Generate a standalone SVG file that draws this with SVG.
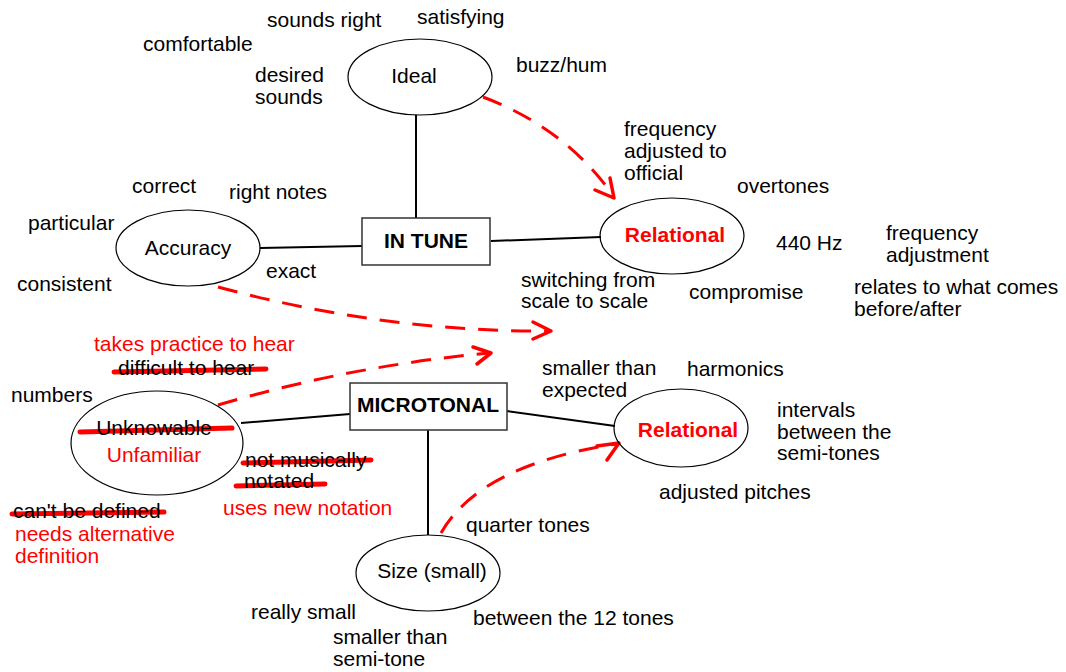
<svg xmlns="http://www.w3.org/2000/svg" width="1066" height="672" viewBox="0 0 1066 672">
<style>
text{font-family:"Liberation Sans",Arial,sans-serif;font-size:21px;fill:#000}
.red{fill:#ff0000}
.b{font-weight:bold}
.mid{text-anchor:middle}
.ell{fill:none;stroke:#000;stroke-width:1.2}
.box{fill:#fff;stroke:#333;stroke-width:1.5}
.link{stroke:#000;stroke-width:2;fill:none}
.dash{stroke:#ff0000;stroke-width:3;fill:none;stroke-dasharray:20 13}
.head{stroke:#ff0000;stroke-width:3.5;fill:none;stroke-linecap:round;stroke-linejoin:round}
.strike{stroke:#ff0000;stroke-width:5;stroke-linecap:round;fill:none}
</style>
<rect width="1066" height="672" fill="#fff"/>
<g id="strikes">
<line class="strike" x1="114" y1="372" x2="266" y2="369"/>
<line class="strike" x1="80" y1="432" x2="232" y2="428"/>
<line class="strike" x1="243" y1="463" x2="371" y2="460"/>
<line class="strike" x1="236" y1="486" x2="325" y2="484"/>
<line class="strike" x1="12" y1="514" x2="164" y2="512"/>
</g>
<g id="connectors">
<line class="link" x1="416" y1="115" x2="416" y2="218"/>
<line class="link" x1="491" y1="241" x2="601" y2="237"/>
<line class="link" x1="260" y1="248" x2="362" y2="246"/>
<line class="link" x1="241" y1="423" x2="350" y2="414"/>
<line class="link" x1="507" y1="411" x2="615" y2="426"/>
<line class="link" x1="428" y1="430" x2="428" y2="535"/>
<path class="dash" d="M483,97 Q565,128 612,194"/>
<polyline class="head" points="595,190 614,198 610,178"/>
<path class="dash" d="M218,287 Q385,332 548,331"/>
<polyline class="head" points="533,322 551,331 533,339"/>
<path class="dash" d="M218,405 Q350,366 489,353"/>
<polyline class="head" points="473,347 491,353 477,364"/>
<path class="dash" d="M441,533 Q480,465 616,444"/>
<polyline class="head" points="597,446 619,443 607,460"/>
</g>
<g id="ideal">
<ellipse class="ell" cx="420" cy="77" rx="72" ry="38"/>
<text x="414" y="83" class="mid">Ideal</text>
</g>
<g id="in-tune">
<rect class="box" x="362" y="218" width="128" height="47"/>
<text x="426" y="248" class="mid b">IN TUNE</text>
</g>
<g id="relational-top">
<ellipse class="ell" cx="672" cy="236" rx="72" ry="38"/>
<text x="675" y="242" class="mid b red">Relational</text>
</g>
<g id="accuracy">
<ellipse class="ell" cx="188" cy="248" rx="72" ry="38"/>
<text x="188" y="255" class="mid">Accuracy</text>
</g>
<g id="microtonal">
<rect class="box" x="350" y="383" width="157" height="47"/>
<text x="428" y="412" class="mid b">MICROTONAL</text>
</g>
<g id="unknowable">
<ellipse class="ell" cx="157" cy="443" rx="86" ry="52"/>
<text x="154" y="435" class="mid">Unknowable</text>
<text x="154" y="462" class="mid red">Unfamiliar</text>
</g>
<g id="relational-bottom">
<ellipse class="ell" cx="681" cy="428" rx="67" ry="39"/>
<text x="688" y="437" class="mid b red">Relational</text>
</g>
<g id="size">
<ellipse class="ell" cx="428" cy="573" rx="72" ry="38"/>
<text x="432" y="578" class="mid">Size (small)</text>
</g>
<g id="labels">
<text x="267" y="27">sounds right</text>
<text x="417" y="24">satisfying</text>
<text x="143" y="51">comfortable</text>
<text x="255" y="82">desired</text>
<text x="255" y="104">sounds</text>
<text x="516" y="72">buzz/hum</text>
<text x="624" y="136">frequency</text>
<text x="624" y="158">adjusted to</text>
<text x="624" y="180">official</text>
<text x="737" y="193">overtones</text>
<text x="132" y="193">correct</text>
<text x="229" y="199">right notes</text>
<text x="28" y="230">particular</text>
<text x="17" y="291">consistent</text>
<text x="266" y="278">exact</text>
<text x="776" y="250">440 Hz</text>
<text x="886" y="240">frequency</text>
<text x="886" y="262">adjustment</text>
<text x="521" y="287">switching from</text>
<text x="521" y="308">scale to scale</text>
<text x="689" y="299">compromise</text>
<text x="854" y="294">relates to what comes</text>
<text x="854" y="316">before/after</text>
<text x="94" y="351" class="red">takes practice to hear</text>
<text x="118" y="375">difficult to hear</text>
<text x="11" y="402">numbers</text>
<text x="542" y="375">smaller than</text>
<text x="542" y="397">expected</text>
<text x="687" y="376">harmonics</text>
<text x="777" y="417">intervals</text>
<text x="777" y="439">between the</text>
<text x="777" y="460">semi-tones</text>
<text x="245" y="467">not musically</text>
<text x="244" y="488">notated</text>
<text x="223" y="515" class="red">uses new notation</text>
<text x="13" y="518">can't be defined</text>
<text x="15" y="541" class="red">needs alternative</text>
<text x="15" y="563" class="red">definition</text>
<text x="659" y="499">adjusted pitches</text>
<text x="466" y="532">quarter tones</text>
<text x="251" y="619">really small</text>
<text x="473" y="625">between the 12 tones</text>
<text x="333" y="644">smaller than</text>
<text x="333" y="666">semi-tone</text>
</g>
</svg>
